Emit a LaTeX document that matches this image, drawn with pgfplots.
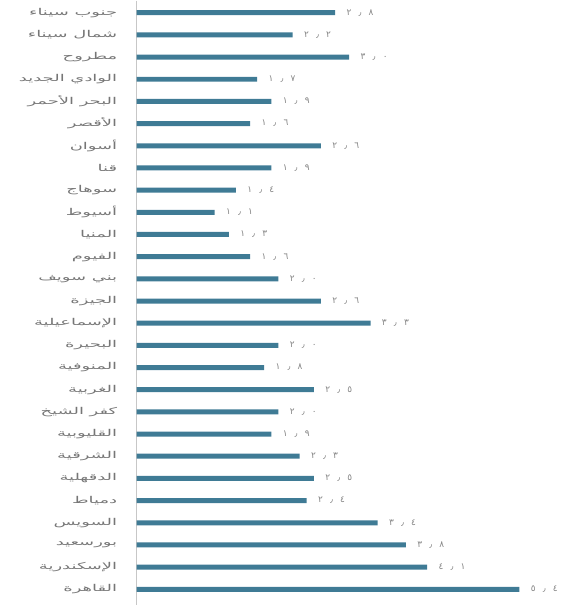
\documentclass[border=0pt]{standalone}
\usepackage{fontspec}
\usepackage{pgfplots}
\usepackage{pgfplotstable}
\pgfplotsset{compat=1.18}
\TeXXeTstate=1
\newfontfamily\arabicfont[Script=Arabic,FakeStretch=1.9]{DejaVu Sans}
\newfontfamily\numfont[LetterSpace=80]{DejaVu Sans}
\newcommand{\ar}[1]{{\arabicfont\beginR #1\endR}}
\definecolor{barblue}{HTML}{3F7B95}
\definecolor{labgray}{HTML}{767676}
\definecolor{numgray}{HTML}{858585}
\pgfplotstableread[col sep=comma]{
idx,val,lab
0,2.8,٢٫٨
1,2.2,٢٫٢
2,3.0,٣٫٠
3,1.7,١٫٧
4,1.9,١٫٩
5,1.6,١٫٦
6,2.6,٢٫٦
7,1.9,١٫٩
8,1.4,١٫٤
9,1.1,١٫١
10,1.3,١٫٣
11,1.6,١٫٦
12,2.0,٢٫٠
13,2.6,٢٫٦
14,3.3,٣٫٣
15,2.0,٢٫٠
16,1.8,١٫٨
17,2.5,٢٫٥
18,2.0,٢٫٠
19,1.9,١٫٩
20,2.3,٢٫٣
21,2.5,٢٫٥
22,2.4,٢٫٤
23,3.4,٣٫٤
24,3.8,٣٫٨
25,4.1,٤٫١
26,5.4,٥٫٤
}\govdata
\begin{document}
\begin{tikzpicture}
\begin{axis}[
  scale only axis,
  width=439bp, height=606bp,
  xmin=0, xmax=6.18,
  ymin=-0.54, ymax=26.72,
  y dir=reverse,
  axis x line=none,
  axis y line*=left,
  y axis line style={draw=black!22, line width=1.5pt},
  ytick={0,...,26},
  major tick length=0pt,
  yticklabel style={font=\fontsize{9.5}{11}\selectfont, text=labgray, xshift=-16bp},
  yticklabels={\ar{جنوب سيناء},\ar{شمال سيناء},\ar{مطروح},\ar{الوادي الجديد},\ar{البحر الأحمر},\ar{الأقصر},\ar{أسوان},\ar{قنا},\ar{سوهاج},\ar{أسيوط},\ar{المنيا},\ar{الفيوم},\ar{بني سويف},\ar{الجيزة},\ar{الإسماعيلية},\ar{البحيرة},\ar{المنوفية},\ar{الغربية},\ar{كفر الشيخ},\ar{القليوبية},\ar{الشرقية},\ar{الدقهلية},\ar{دمياط},\ar{السويس},\ar{بورسعيد},\ar{الإسكندرية},\ar{القاهرة}},
  xbar, bar width=5bp,
  point meta=explicit symbolic,
  nodes near coords={\numfont\pgfplotspointmeta},
  nodes near coords style={font=\fontsize{9}{10}\selectfont, text=numgray, anchor=west, xshift=8bp},
  clip=false,
]
\addplot[fill=barblue, draw=none] table[x=val, y=idx, meta=lab]{\govdata};
\end{axis}
\path ([xshift=-137bp]current axis.south west) rectangle (current axis.north east);
\end{tikzpicture}
\end{document}
